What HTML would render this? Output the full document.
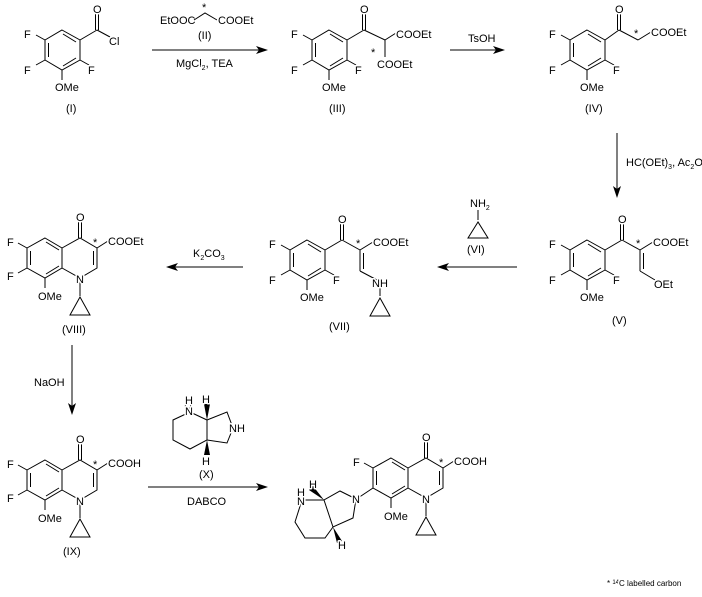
<!DOCTYPE html>
<html><head><meta charset="utf-8"><style>
html,body{margin:0;padding:0;background:#fff}
svg{display:block}
line,polygon,polyline{stroke:#000;stroke-width:1;fill:none}
text{font-family:"Liberation Sans",Arial,sans-serif;font-size:11px;fill:#000;stroke:#fff;stroke-width:3px;paint-order:stroke;stroke-linejoin:round}
.s{font-size:7px}
.ah{fill:#000;stroke:none}
</style></head><body>
<svg width="702" height="597" viewBox="0 0 702 597" xmlns="http://www.w3.org/2000/svg">
<defs></defs>

<!-- Compound I -->
<g>
<polygon points="62,30 80,40 80,60 62,70 45,60 45,40"/>
<line x1="48.5" y1="43" x2="48.5" y2="57"/><line x1="63" y1="34" x2="76" y2="42"/><line x1="76" y1="58" x2="63" y2="66"/>
<line x1="45" y1="40" x2="36" y2="35"/><line x1="45" y1="60" x2="36" y2="65"/><line x1="80" y1="60" x2="89" y2="65"/><line x1="62" y1="70" x2="62" y2="80"/>
<line x1="80" y1="40" x2="97" y2="30"/><line x1="95.5" y1="30" x2="95.5" y2="13"/><line x1="98.5" y1="30" x2="98.5" y2="13"/>
<line x1="97" y1="30" x2="110" y2="37"/>
<text x="24" y="38">F</text><text x="24" y="74">F</text><text x="88" y="74">F</text><text x="55" y="91">OMe</text><text x="93" y="13">O</text><text x="109" y="45">Cl</text>
<text x="66" y="112">(I)</text>
</g>

<!-- Reagent II and arrow 1 -->
<text x="160" y="24">EtOOC</text><polyline points="194,20 205,13 217,20"/><text x="202" y="11">*</text><text x="218" y="24">COOEt</text>
<text x="198" y="39">(II)</text>
<line x1="152" y1="50" x2="262" y2="50"/><polygon class="ah" points="268,50 256,46 259,50 256,54"/>
<text x="176" y="67">MgCl<tspan class="s" dy="3">2</tspan><tspan dy="-3">, TEA</tspan></text>

<!-- Compound III -->
<g transform="translate(267,0)">
<polygon points="62,30 80,40 80,60 62,70 45,60 45,40"/>
<line x1="48.5" y1="43" x2="48.5" y2="57"/><line x1="63" y1="34" x2="76" y2="42"/><line x1="76" y1="58" x2="63" y2="66"/>
<line x1="45" y1="40" x2="36" y2="35"/><line x1="45" y1="60" x2="36" y2="65"/><line x1="80" y1="60" x2="89" y2="65"/><line x1="62" y1="70" x2="62" y2="80"/>
<line x1="80" y1="40" x2="97" y2="30"/><line x1="95.5" y1="30" x2="95.5" y2="13"/><line x1="98.5" y1="30" x2="98.5" y2="13"/>
<line x1="97" y1="30" x2="118" y2="40"/><line x1="118" y1="40" x2="129" y2="33"/><line x1="118" y1="40" x2="118" y2="57"/>
<text x="24" y="38">F</text><text x="24" y="74">F</text><text x="88" y="74">F</text><text x="55" y="91">OMe</text><text x="93" y="13">O</text>
<text x="129" y="38">COOEt</text><text x="104" y="56">*</text><text x="110" y="68">COOEt</text>
<text x="62" y="112">(III)</text>
</g>

<!-- TsOH arrow -->
<line x1="450" y1="50" x2="499" y2="50"/><polygon class="ah" points="505,50 493,46 496,50 493,54"/>
<text x="468" y="42">TsOH</text>

<!-- Compound IV -->
<g transform="translate(525,0)">
<polygon points="62,30 80,40 80,60 62,70 45,60 45,40"/>
<line x1="48.5" y1="43" x2="48.5" y2="57"/><line x1="63" y1="34" x2="76" y2="42"/><line x1="76" y1="58" x2="63" y2="66"/>
<line x1="45" y1="40" x2="36" y2="35"/><line x1="45" y1="60" x2="36" y2="65"/><line x1="80" y1="60" x2="89" y2="65"/><line x1="62" y1="70" x2="62" y2="80"/>
<line x1="80" y1="40" x2="94" y2="30"/><line x1="92.5" y1="30" x2="92.5" y2="13"/><line x1="95.5" y1="30" x2="95.5" y2="13"/>
<line x1="94" y1="30" x2="113" y2="40"/><line x1="113" y1="40" x2="126" y2="32"/>
<text x="24" y="38">F</text><text x="24" y="74">F</text><text x="88" y="74">F</text><text x="55" y="91">OMe</text><text x="90" y="13">O</text>
<text x="109" y="37">*</text><text x="126" y="36">COOEt</text>
<text x="60" y="112">(IV)</text>
</g>

<!-- vertical arrow -->
<line x1="617" y1="133" x2="617" y2="192"/><polygon class="ah" points="617,198 613,186 617,189 621,186"/>
<text x="626" y="166">HC(OEt)<tspan class="s" dy="3">3</tspan><tspan dy="-3">, Ac</tspan><tspan class="s" dy="3">2</tspan><tspan dy="-3">O</tspan></text>

<!-- Compound V -->
<g transform="translate(525,210)">
<polygon points="62,30 80,40 80,60 62,70 45,60 45,40"/>
<line x1="48.5" y1="43" x2="48.5" y2="57"/><line x1="63" y1="34" x2="76" y2="42"/><line x1="76" y1="58" x2="63" y2="66"/>
<line x1="45" y1="40" x2="36" y2="35"/><line x1="45" y1="60" x2="36" y2="65"/><line x1="80" y1="60" x2="89" y2="65"/><line x1="62" y1="70" x2="62" y2="80"/>
<line x1="80" y1="40" x2="97" y2="30"/><line x1="95.5" y1="30" x2="95.5" y2="13"/><line x1="98.5" y1="30" x2="98.5" y2="13"/>
<line x1="97" y1="30" x2="115" y2="40"/><line x1="115" y1="40" x2="128" y2="32"/>
<line x1="115" y1="40" x2="115" y2="61"/><line x1="118.5" y1="43" x2="118.5" y2="59"/><line x1="115" y1="61" x2="130" y2="70"/>
<text x="24" y="38">F</text><text x="24" y="74">F</text><text x="88" y="74">F</text><text x="55" y="91">OMe</text><text x="93" y="13">O</text>
<text x="111" y="37">*</text><text x="128" y="36">COOEt</text><text x="129" y="78">OEt</text>
<text x="87" y="114">(V)</text>
</g>

<!-- VI and arrow -->
<text x="470" y="207">NH<tspan class="s" dy="3">2</tspan></text>
<line x1="478" y1="210" x2="478" y2="220"/><polygon points="478,222 468,238 488,238"/>
<text x="467" y="253">(VI)</text>
<line x1="443" y1="267" x2="517" y2="267"/><polygon class="ah" points="437,267 449,263 446,267 449,271"/>

<!-- Compound VII -->
<g transform="translate(245,210)">
<polygon points="62,30 80,40 80,60 62,70 45,60 45,40"/>
<line x1="48.5" y1="43" x2="48.5" y2="57"/><line x1="63" y1="34" x2="76" y2="42"/><line x1="76" y1="58" x2="63" y2="66"/>
<line x1="45" y1="40" x2="36" y2="35"/><line x1="45" y1="60" x2="36" y2="65"/><line x1="80" y1="60" x2="89" y2="65"/><line x1="62" y1="70" x2="62" y2="80"/>
<line x1="80" y1="40" x2="97" y2="30"/><line x1="95.5" y1="30" x2="95.5" y2="13"/><line x1="98.5" y1="30" x2="98.5" y2="13"/>
<line x1="97" y1="30" x2="115" y2="40"/><line x1="115" y1="40" x2="128" y2="32"/>
<line x1="115" y1="40" x2="115" y2="61"/><line x1="118.5" y1="43" x2="118.5" y2="59"/><line x1="115" y1="61" x2="132" y2="70"/>
<line x1="135" y1="74" x2="135" y2="86"/><polygon points="135,88 125,106 145,106"/>
<text x="24" y="38">F</text><text x="24" y="74">F</text><text x="88" y="74">F</text><text x="55" y="91">OMe</text><text x="93" y="13">O</text>
<text x="111" y="37">*</text><text x="128" y="36">COOEt</text><text x="127" y="77">NH</text>
<text x="84" y="120">(VII)</text>
</g>

<!-- K2CO3 arrow -->
<line x1="173" y1="267" x2="243" y2="267"/><polygon class="ah" points="166,267 178,263 175,267 178,271"/>
<text x="193" y="257">K<tspan class="s" dy="3">2</tspan><tspan dy="-3">CO</tspan><tspan class="s" dy="3">3</tspan></text>

<!-- Compound VIII -->
<g>
<polygon points="45,238 62,248 62,268 45,278 27,268 27,248"/>
<polyline points="62,248 80,238 97,248 97,268 80,278 62,268"/>
<line x1="30.5" y1="251" x2="30.5" y2="265"/><line x1="46" y1="242" x2="59" y2="250"/><line x1="59" y1="266" x2="46" y2="274"/>
<line x1="93.5" y1="251" x2="93.5" y2="265"/>
<line x1="78.5" y1="238" x2="78.5" y2="222"/><line x1="81.5" y1="238" x2="81.5" y2="222"/>
<line x1="27" y1="248" x2="18" y2="243"/><line x1="27" y1="268" x2="18" y2="273"/><line x1="45" y1="278" x2="45" y2="288"/>
<line x1="97" y1="248" x2="108" y2="241"/>
<line x1="80" y1="280" x2="80" y2="296"/><polygon points="80,297 70,315 90,315"/>
<text x="76" y="221">O</text><text x="7" y="246">F</text><text x="7" y="280">F</text><text x="38" y="300">OMe</text>
<text x="93" y="246">*</text><text x="108" y="245">COOEt</text><text x="76" y="283">N</text>
<text x="62" y="333">(VIII)</text>
</g>

<!-- NaOH arrow -->
<line x1="72" y1="345" x2="72" y2="408"/><polygon class="ah" points="72,415 68,403 72,406 76,403"/>
<text x="34" y="386">NaOH</text>

<!-- Compound IX -->
<g transform="translate(0,222)">
<polygon points="45,238 62,248 62,268 45,278 27,268 27,248"/>
<polyline points="62,248 80,238 97,248 97,268 80,278 62,268"/>
<line x1="30.5" y1="251" x2="30.5" y2="265"/><line x1="46" y1="242" x2="59" y2="250"/><line x1="59" y1="266" x2="46" y2="274"/>
<line x1="93.5" y1="251" x2="93.5" y2="265"/>
<line x1="78.5" y1="238" x2="78.5" y2="222"/><line x1="81.5" y1="238" x2="81.5" y2="222"/>
<line x1="27" y1="248" x2="18" y2="243"/><line x1="27" y1="268" x2="18" y2="273"/><line x1="45" y1="278" x2="45" y2="288"/>
<line x1="97" y1="248" x2="108" y2="241"/>
<line x1="80" y1="280" x2="80" y2="296"/><polygon points="80,297 70,315 90,315"/>
<text x="76" y="221">O</text><text x="7" y="246">F</text><text x="7" y="280">F</text><text x="38" y="300">OMe</text>
<text x="93" y="246">*</text><text x="108" y="245">COOH</text><text x="76" y="283">N</text>
<text x="63" y="333">(IX)</text>
</g>

<!-- Compound X -->
<g>
<polyline points="190,412 207,420 207,440 190,449 173,440 173,420 190,412"/>
<polyline points="207,420 227,412 233,428 227,443 207,440"/>
<polygon class="ah" points="207,420 204,404 210,404"/>
<polygon class="ah" points="207,440 204,455 210,455"/>
<text x="184" y="412">H</text><text x="184" y="403">&#160;</text>
<text x="202" y="403">H</text><text x="202" y="465">H</text>
<text x="229" y="432">NH</text>
<text x="199" y="478">(X)</text>
</g>
<text x="185" y="404">H</text><text x="185" y="415">N</text>

<!-- DABCO arrow -->
<line x1="148" y1="487" x2="262" y2="487"/><polygon class="ah" points="268,487 256,483 259,487 256,491"/>
<text x="187" y="505">DABCO</text>

<!-- Product -->
<g transform="translate(346,220)">
<polygon points="45,238 62,248 62,268 45,278 27,268 27,248"/>
<polyline points="62,248 80,238 97,248 97,268 80,278 62,268"/>
<line x1="30.5" y1="251" x2="30.5" y2="265"/><line x1="46" y1="242" x2="59" y2="250"/><line x1="59" y1="266" x2="46" y2="274"/>
<line x1="93.5" y1="251" x2="93.5" y2="265"/>
<line x1="78.5" y1="238" x2="78.5" y2="222"/><line x1="81.5" y1="238" x2="81.5" y2="222"/>
<line x1="27" y1="248" x2="18" y2="243"/><line x1="27" y1="268" x2="12" y2="278"/><line x1="45" y1="278" x2="45" y2="288"/>
<line x1="97" y1="248" x2="108" y2="241"/>
<line x1="80" y1="280" x2="80" y2="296"/><polygon points="80,297 70,315 90,315"/>
<text x="76" y="221">O</text><text x="7" y="246">F</text><text x="38" y="300">OMe</text>
<text x="93" y="246">*</text><text x="108" y="245">COOH</text><text x="76" y="283">N</text>
</g>
<g>
<polyline points="356,499 340,491 324,500 333,527 353,518 356,499"/>
<polyline points="302,500 295,522 305,538 325,538 333,527"/>
<line x1="302" y1="500" x2="324" y2="500"/>
<polygon class="ah" points="324,500 309,490 313,486"/>
<polygon class="ah" points="333,527 342,541 337,543"/>
<text x="352" y="503">N</text>
<text x="297" y="496">H</text><text x="297" y="505">N</text>
<text x="309" y="488">H</text><text x="338" y="549">H</text>
</g>

<text x="607" y="586" style="font-size:8px">* <tspan style="font-size:6px" dy="-2">14</tspan><tspan dy="2">C labelled carbon</tspan></text>
</svg>
</body></html>
